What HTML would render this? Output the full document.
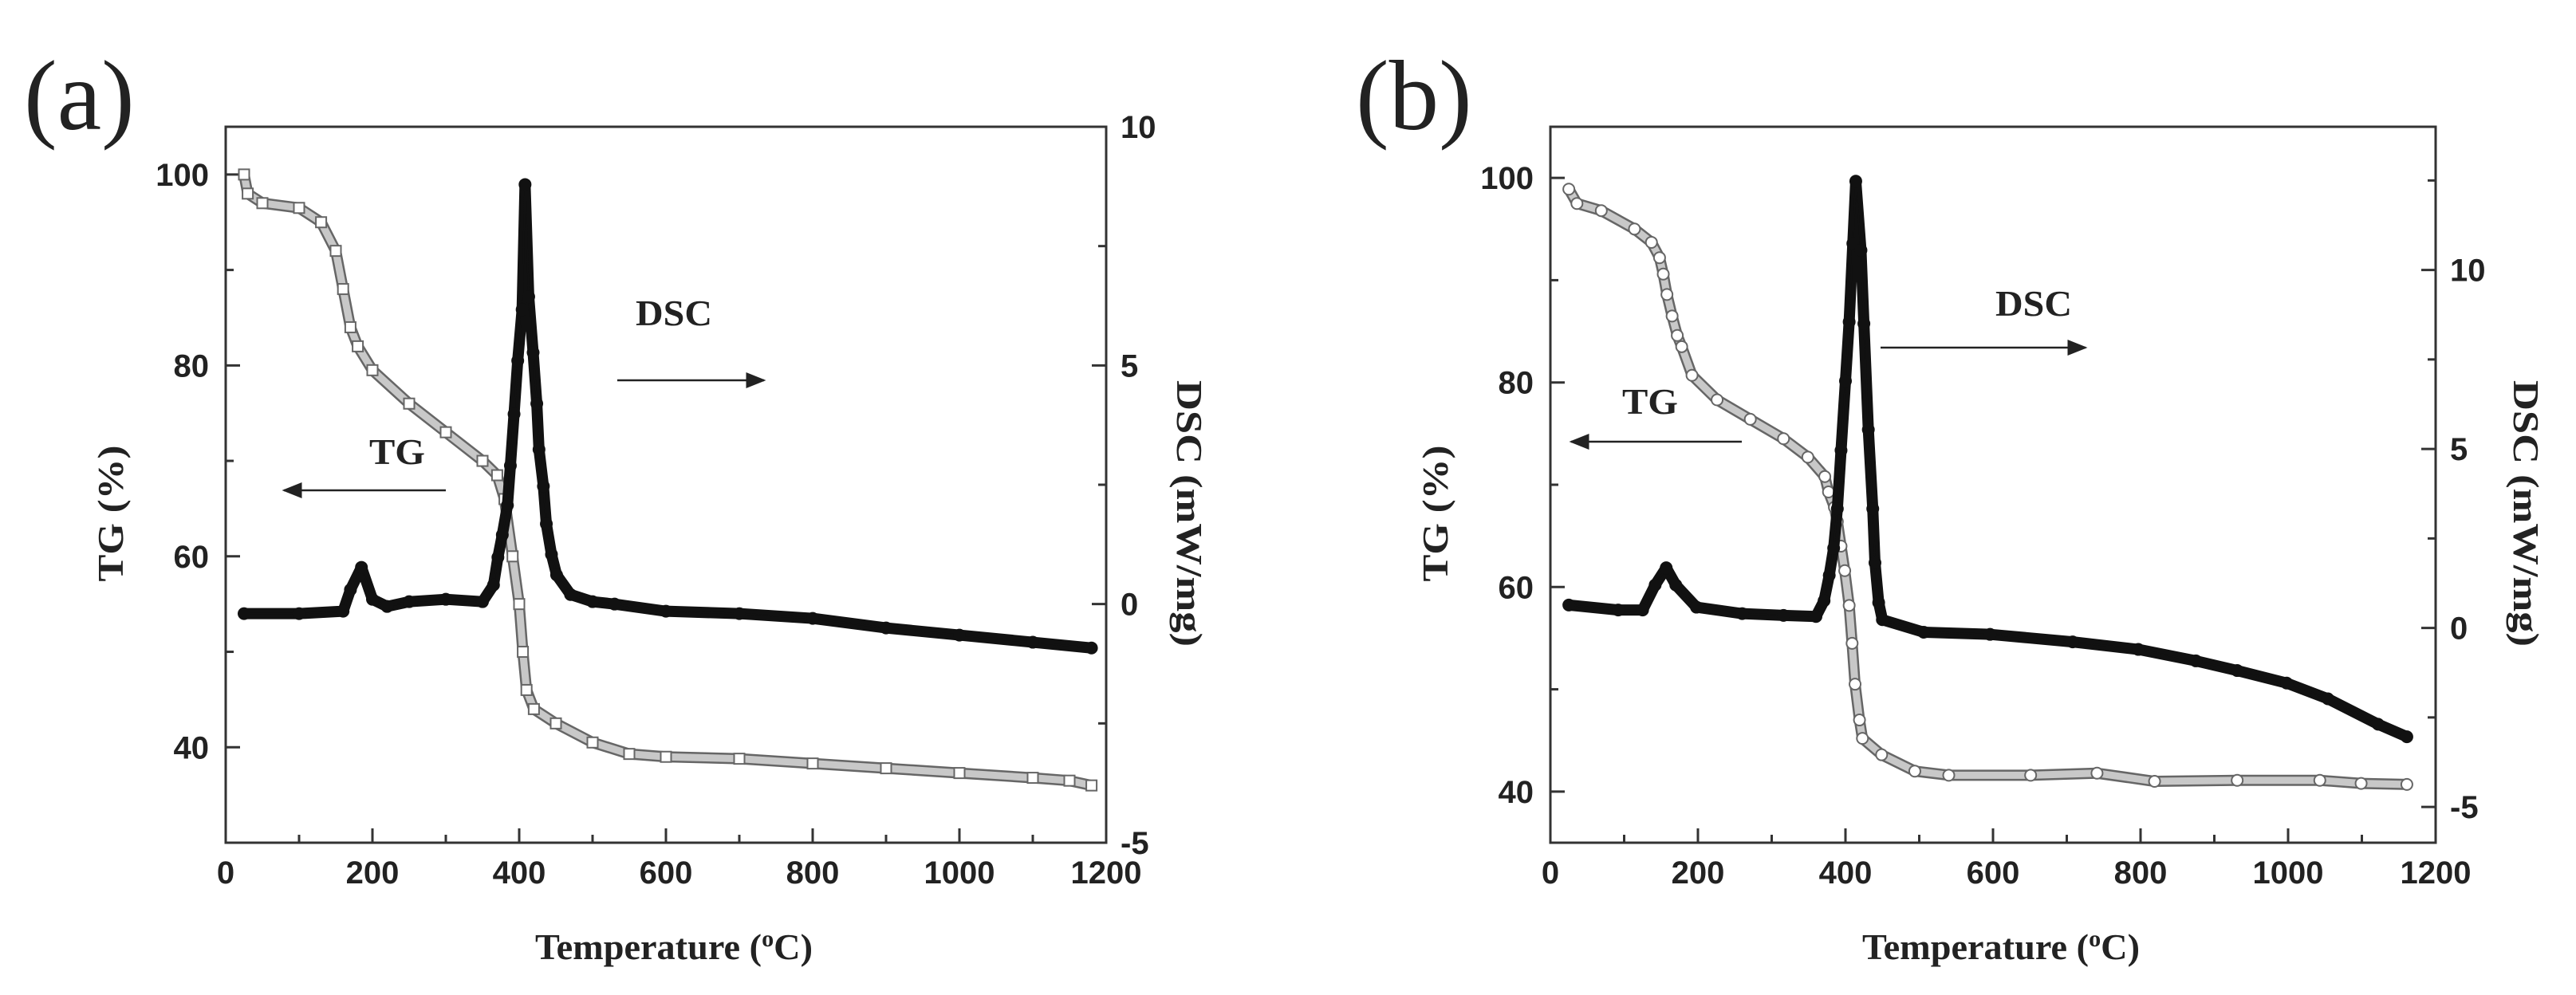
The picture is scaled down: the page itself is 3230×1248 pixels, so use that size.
<!DOCTYPE html>
<html><head><meta charset="utf-8"><style>
html,body{margin:0;padding:0;background:#fff;overflow:hidden;}
svg{display:block;font-family:"Liberation Serif",serif;}
.tk{font-family:"Liberation Sans",sans-serif;font-weight:bold;font-size:40px;fill:#222;}
.tt{font-family:"Liberation Serif",serif;font-weight:bold;font-size:46px;fill:#222;}
</style></head><body>
<svg id="fig" width="3230" height="1248" viewBox="0 0 3230 1248">
<defs><marker id="ah" markerWidth="10" markerHeight="8" refX="9" refY="4" orient="auto"><path d="M0,0 L10,4 L0,8 z" fill="#222"/></marker></defs>
</svg>
<script>
// Panel (a) data
const tempA_TG = [25,30,50,100,130,150,160,170,180,200,250,300,350,370,380,391,400,405,410,420,450,500,550,600,700,800,900,1000,1100,1150,1180];
const tgA = [100,98,97,96.5,95,92,88,84,82,79.5,76,73,70,68.5,66,60,55,50,46,44,42.5,40.5,39.3,39,38.8,38.3,37.8,37.3,36.8,36.5,36];
const tempA_DSC = [25,100,160,170,185,200,220,250,300,350,365,371,377,384,388,393,398,404,408,413,419,424,427,433,437,444,451,470,500,530,600,700,800,900,1000,1100,1180];
const dscA = [-0.2,-0.2,-0.15,0.3,0.77,0.1,-0.05,0.05,0.1,0.05,0.4,0.98,1.45,2.07,2.9,3.98,5.1,6.17,8.79,6.44,5.27,4.2,3.24,2.47,1.68,1.04,0.61,0.2,0.05,0,-0.15,-0.2,-0.3,-0.5,-0.65,-0.8,-0.92];
// Panel (b) data
const tempB_TG = [25,36,69,114,137,148,153,158,165,172,178,192,226,271,316,349,372,377,385,389,394,399,405,409,413,419,423,449,494,540,651,741,819,931,1043,1099,1161];
const tgB = [98.9,97.5,96.8,95,93.7,92.2,90.6,88.6,86.5,84.6,83.5,80.7,78.3,76.4,74.5,72.7,70.8,69.3,67.8,66.4,64,61.6,58.2,54.5,50.5,47,45.2,43.6,42,41.6,41.6,41.8,41,41.1,41.1,40.8,40.7];
const tempB_DSC = [25,92,125,142,157,170,198,260,316,360,371,378,384,389,394,400,405,410,414,421,425,431,437,440,445,450,506,596,708,797,875,931,998,1054,1122,1161];
const dscB = [0.64,0.5,0.5,1.2,1.68,1.2,0.58,0.4,0.35,0.32,0.76,1.47,2.23,3.33,4.96,6.9,8.55,10.74,12.48,10.55,8.5,5.54,3.33,1.82,0.71,0.23,-0.12,-0.18,-0.39,-0.6,-0.92,-1.19,-1.54,-1.98,-2.69,-3.04];
const xTicks = [0,200,400,600,800,1000,1200];
const tgTicks = [40,60,80,100];
const dscTicks = [-5,0,5,10];

const NS="http://www.w3.org/2000/svg";
const svg=document.getElementById('fig');
function mk(tag,attrs,parent){const e=document.createElementNS(NS,tag);for(const k in attrs)e.setAttribute(k,attrs[k]);(parent||svg).appendChild(e);return e;}
function txt(s,attrs,parent){const e=mk('text',attrs,parent);e.textContent=s;return e;}

function panel(p){
  const g=mk('g',{});
  
  
  const X=v=>p.L+(v-0)/1200*(p.R-p.L);
  const YL=v=>p.B-(v-p.tgMin)/(p.tgMax-p.tgMin)*(p.B-p.T);
  const YR=v=>p.B-(v-p.dMin)/(p.dMax-p.dMin)*(p.B-p.T);
  const frame=mk('rect',{x:p.L,y:p.T,width:p.R-p.L,height:p.B-p.T,fill:'none',stroke:'#333','stroke-width':3},g);
  
  
  for(let v=0;v<=1200;v+=100){const x=X(v),len=v%200===0?18:10;mk('line',{x1:x,x2:x,y1:p.B,y2:p.B-len,stroke:'#333','stroke-width':3},g);}
  xTicks.forEach(v=>{const t=txt(v,{x:X(v),y:p.B+51,'text-anchor':'middle',class:'tk'},g);});
  for(let v=Math.ceil(p.tgMin/10)*10;v<=p.tgMax;v+=10){const y=YL(v),len=v%20===0?18:10;mk('line',{x1:p.L,x2:p.L+len,y1:y,y2:y,stroke:'#333','stroke-width':3},g);}
  tgTicks.forEach(v=>{const t=txt(v,{x:p.L-21,y:YL(v)+14,'text-anchor':'end',class:'tk'},g);});
  for(let v=-5;v<=p.dMax;v+=2.5){const y=YR(v),len=v%5===0?18:10;mk('line',{x1:p.R,x2:p.R-len,y1:y,y2:y,stroke:'#333','stroke-width':3},g);}
  dscTicks.forEach(v=>{if(v>p.dMax)return;const t=txt(v,{x:p.R+18,y:YR(v)+14,'text-anchor':'start',class:'tk'},g);});
  // TG series
  const tgPts=p.tgT.map((t,i)=>X(t)+','+YL(p.tg[i])).join(' ');
  const tgBand=mk('polyline',{points:tgPts,fill:'none',stroke:'#666','stroke-width':14,'stroke-linejoin':'round','stroke-linecap':'round'},g);
  
  
  mk('polyline',{points:tgPts,fill:'none',stroke:'#c8c8c8','stroke-width':9,'stroke-linejoin':'round','stroke-linecap':'round'},g);
  p.tgT.forEach((t,i)=>{let m;
    if(p.square){m=mk('rect',{x:X(t)-6.5,y:YL(p.tg[i])-6.5,width:13,height:13,fill:'#fff',stroke:'#666','stroke-width':2},g);}
    else{m=mk('circle',{cx:X(t),cy:YL(p.tg[i]),r:7,fill:'#fff',stroke:'#666','stroke-width':2},g);}
    
    });
  // DSC series
  const dPts=p.dT.map((t,i)=>X(t)+','+YR(p.d[i])).join(' ');
  const dBand=mk('polyline',{points:dPts,fill:'none',stroke:'#111','stroke-width':14,'stroke-linejoin':'round','stroke-linecap':'round'},g);
  
  
  mk('polyline',{points:dPts,fill:'none',stroke:'#111','stroke-width':2},g);
  p.dT.forEach((t,i)=>{const c=mk('circle',{cx:X(t),cy:YR(p.d[i]),r:8,fill:'#111'},g);
    
    });
  // annotations
  let e=txt('DSC',{x:p.dscLab[0],y:p.dscLab[1],class:'tt','font-size':40,textLength:96,lengthAdjust:'spacingAndGlyphs'},g);
  e=mk('line',{x1:p.dscArr[0],x2:p.dscArr[1],y1:p.dscArr[2],y2:p.dscArr[2],stroke:'#222','stroke-width':2.5,'marker-end':'url(#ah)'},g);
  e=txt('TG',{x:p.tgLab[0],y:p.tgLab[1],class:'tt','font-size':40,textLength:70,lengthAdjust:'spacingAndGlyphs'},g);
  e=mk('line',{x1:p.tgArr[0],x2:p.tgArr[1],y1:p.tgArr[2],y2:p.tgArr[2],stroke:'#222','stroke-width':2.5,'marker-end':'url(#ah)'},g);
  // titles
  e=txt('TG (%)',{x:0,y:0,class:'tt','text-anchor':'middle',textLength:171,lengthAdjust:'spacingAndGlyphs',transform:`translate(${p.tgTitleX},644) rotate(-90)`},g);
  e=txt('DSC (mW/mg)',{x:0,y:0,class:'tt','text-anchor':'middle',textLength:334,lengthAdjust:'spacingAndGlyphs',transform:`translate(${p.dTitleX},644) rotate(90)`},g);
  e=mk('text',{x:(p.L+p.R)/2+10,y:1203,class:'tt','font-size':50,'text-anchor':'middle',textLength:348,lengthAdjust:'spacingAndGlyphs'},g);e.innerHTML='Temperature (<tspan baseline-shift="super" font-size="30">o</tspan>C)';
  e=txt(p.label,{x:p.labX,y:162,'font-size':125,'font-family':'Liberation Serif, serif',fill:'#222'},g);
}
panel({id:'a',label:'(a)',labX:30,L:283,R:1387,T:159,B:1057,tgMin:30,tgMax:105,dMin:-5,dMax:10,square:true,
  tgT:tempA_TG,tg:tgA,dT:tempA_DSC,d:dscA,dscLab:[797,408],dscArr:[774,958,477],tgLab:[463,582],tgArr:[559,356,615],tgTitleX:154,dTitleX:1476});
panel({id:'b',label:'(b)',labX:1700,L:1944,R:3054,T:159,B:1057,tgMin:35,tgMax:105,dMin:-6,dMax:14,square:false,
  tgT:tempB_TG,tg:tgB,dT:tempB_DSC,d:dscB,dscLab:[2502,396],dscArr:[2358,2615,436],tgLab:[2034,519],tgArr:[2184,1970,554],tgTitleX:1815,dTitleX:3152});
</script>
</body></html>
